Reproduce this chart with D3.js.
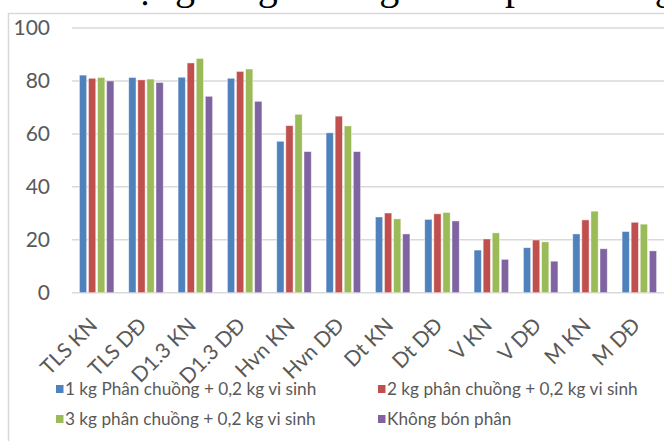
<!DOCTYPE html>
<html>
<head>
<meta charset="utf-8">
<script src="https://cdn.jsdelivr.net/npm/d3@7"></script>
<style>
  html, body { margin: 0; padding: 0; background: #fff; }
  svg { display: block; }
</style>
</head>
<body>
<svg id="chart" width="664" height="441"></svg>
<script>
// Categories (indicator + site) and one value array per fertiliser treatment
const categories = ["TLS KN", "TLS DĐ", "D1.3 KN", "D1.3 DĐ", "Hvn KN", "Hvn DĐ",
                    "Dt KN", "Dt DĐ", "V KN", "V DĐ", "M KN", "M DĐ"];
const seriesNames = ["1 kg Phân chuồng + 0,2 kg vi sinh",
                     "2 kg phân chuồng + 0,2 kg vi sinh",
                     "3 kg phân chuồng + 0,2 kg vi sinh",
                     "Không bón phân"];
const s1 = [82.2, 81.3, 81.4, 81.0, 57.2, 60.4, 28.6, 27.7, 16.1, 17.0, 22.2, 23.1];
const s2 = [81.0, 80.4, 86.8, 83.6, 63.1, 66.7, 30.1, 29.8, 20.3, 19.9, 27.5, 26.6];
const s3 = [81.3, 80.7, 88.5, 84.5, 67.4, 63.0, 27.9, 30.3, 22.6, 19.2, 30.8, 25.9];
const s4 = [80.0, 79.4, 74.2, 72.3, 53.3, 53.3, 22.2, 27.1, 12.6, 11.9, 16.6, 15.8];
const yTicks = [0, 20, 40, 60, 80, 100];

// Caption line above the chart (only its lower edge shows at the top of the page)
const captionWords = ["Hình 3.1: Biến", "động", "tăng", "trưởng", "dưới", "phân", "đang"];

const series = [s1, s2, s3, s4];
const colors = ["#4F81BD", "#C0504D", "#9BBB59", "#8064A2"];
const FONT = "Lato, 'Open Sans', sans-serif";

const svg = d3.select("#chart");

// caption (serif, large, mostly above the page edge)
const capX = [105, 115, 209, 292, 418, 505, 597];
svg.append("g").selectAll("text").data(captionWords).join("text")
  .attr("x", (d, i) => capX[i])
  .attr("y", -1)
  .attr("text-anchor", (d, i) => i === 0 ? "end" : "start")
  .style("font-family", "'Liberation Serif', 'Times New Roman', serif")
  .style("font-size", "40px")
  .attr("fill", "#000")
  .text(d => d);

// chart area frame
svg.append("rect")
  .attr("x", 8.5).attr("y", 13.5)
  .attr("width", 700).attr("height", 440)
  .attr("fill", "#fff")
  .attr("stroke", "#d9d9d9").attr("stroke-width", 1.5);

const plotLeft = 72, plotRight = 664;

const x0 = d3.scaleBand()
  .domain(categories)
  .range([plotLeft, plotRight])
  .paddingInner(0.3)
  .paddingOuter(0.15);

const x1 = d3.scaleBand()
  .domain(d3.range(series.length))
  .range([0, x0.bandwidth()])
  .paddingInner(0.2);

const y = d3.scaleLinear().domain([0, 100]).range([292.7, 28]);

// gridlines
svg.append("g").selectAll("line").data(yTicks).join("line")
  .attr("x1", plotLeft).attr("x2", plotRight)
  .attr("y1", d => y(d)).attr("y2", d => y(d))
  .attr("stroke", "#d9d9d9").attr("stroke-width", 1.5);

// y axis labels
const yAxis = d3.axisLeft(y).tickValues(yTicks).tickSize(0).tickPadding(0);
const yg = svg.append("g").attr("transform", "translate(50,0)").call(yAxis);
yg.select(".domain").remove();
yg.selectAll("text")
  .style("font-family", FONT).style("font-size", "21px")
  .attr("fill", "#595959");

// bars
const groups = svg.append("g").selectAll("g").data(categories).join("g")
  .attr("transform", d => `translate(${x0(d)},0)`);

groups.selectAll("rect")
  .data((d, i) => series.map((s, k) => ({ k, v: s[i] })))
  .join("rect")
  .attr("x", d => x1(d.k))
  .attr("width", x1.bandwidth())
  .attr("y", d => y(d.v))
  .attr("height", d => y(0) - y(d.v))
  .attr("fill", d => colors[d.k])
  .attr("stroke", "#ffffff").attr("stroke-opacity", 0.55).attr("stroke-width", 0.8);

// category axis labels, rotated
const xAxis = d3.axisBottom(x0).tickSize(0).tickPadding(0);
const xg = svg.append("g").attr("transform", `translate(0,${y(0)})`).call(xAxis);
xg.select(".domain").remove();
xg.selectAll("text")
  .style("font-family", FONT).style("font-size", "21px")
  .attr("fill", "#595959")
  .attr("text-anchor", "end")
  .attr("y", 0).attr("dy", 0)
  .attr("transform", "translate(2,34) rotate(-45)");

// legend
const legPos = [[56, 389], [378, 389], [56, 419], [378, 419]];
const leg = svg.append("g").selectAll("g").data(seriesNames).join("g")
  .attr("transform", (d, i) => `translate(${legPos[i][0]},${legPos[i][1]})`);
leg.append("rect")
  .attr("x", 0).attr("y", -4).attr("width", 7.5).attr("height", 8)
  .attr("fill", (d, i) => colors[i]);
leg.append("text")
  .attr("x", 9).attr("y", 0).attr("dy", "0.35em")
  .style("font-family", FONT).style("font-size", "17.2px")
  .attr("fill", "#595959")
  .text(d => d);
</script>
</body>
</html>
